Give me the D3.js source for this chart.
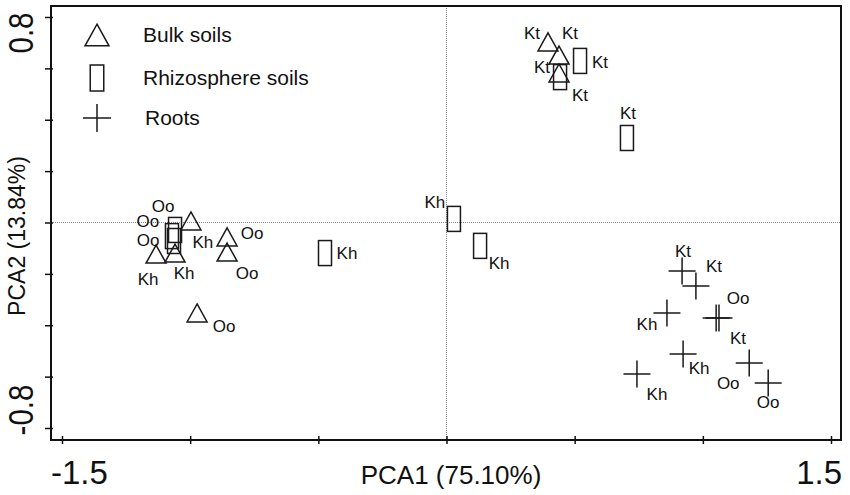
<!DOCTYPE html>
<html>
<head>
<meta charset="utf-8">
<script src="https://cdnjs.cloudflare.com/ajax/libs/d3/7.8.5/d3.min.js"></script>
<style>
  body { margin: 0; background: #fff; }
  text { font-family: Arial, "Liberation Sans", sans-serif; fill: #111; }
</style>
</head>
<body>
<div id="chart"></div>
<script>
// PCA scores
var bulkX = [0.396, 0.439, 0.439, -0.997, -1.133, -1.059, -0.856, -0.856, -0.973];
var bulkY = [0.703, 0.652, 0.582, 0.006, -0.123, -0.119, -0.056, -0.115, -0.352];
var bulkLabels = ["Kt", "Kt", "Kt", "Kh", "Kh", "Kh", "Oo", "Oo", "Oo"];

var rhizoX = [0.443, 0.521, 0.704, -0.474, 0.029, 0.131, -1.059, -1.071, -1.063];
var rhizoY = [0.566, 0.629, 0.329, -0.119, 0.014, -0.091, -0.029, -0.053, -0.072];
var rhizoLabels = ["Kt", "Kt", "Kt", "Kh", "Kh", "Kh", "Oo", "Oo", "Oo"];

var rootX = [0.919, 0.973, 1.063, 0.860, 0.923, 0.743, 1.052, 1.181, 1.255];
var rootY = [-0.189, -0.247, -0.372, -0.352, -0.512, -0.590, -0.372, -0.547, -0.625];
var rootLabels = ["Kt", "Kt", "Kt", "Kh", "Kh", "Kh", "Oo", "Oo", "Oo"];

var legendNames = ["Bulk soils", "Rhizosphere soils", "Roots"];
var xTicks = [-1.5, -1, -0.5, 0, 0.5, 1, 1.5];
var yTicks = [-0.8, -0.6, -0.4, -0.2, 0, 0.2, 0.4, 0.6, 0.8];
var xTickLabels = ["-1.5", "", "", "", "", "", "1.5"];
var yTickLabels = ["-0.8", "", "", "", "", "", "", "", "0.8"];
var xTitle = "PCA1 (75.10%)";
var yTitle = "PCA2 (13.84%)";

// where each point's name sits relative to its marker (px)
var bulkNudge = [[-16,-9],[11,-22],[-17,-6],[12,21],[-8,25],[9,20],[25,-4],[20,21],[27,13]];
var rhizoNudge = [[20,18],[20,1],[1,-25],[22,0],[-19,-17],[19,17],[-12,-24],[-24,-15],[-26,-1]];
var rootNudge = [[1,-20],[18,-20],[19,20],[-20,11],[16,14],[20,20],[22,-20],[-21,20],[0,19]];

var width = 850, height = 495;
var plotL = 51, plotR = 841, plotT = 6, plotB = 440;

var svg = d3.select("#chart").append("svg")
  .attr("width", width)
  .attr("height", height);

var x = d3.scaleLinear().domain([-1.5, 1.5]).range([62, 831]);
var y = d3.scaleLinear().domain([-0.8, 0.8]).range([428, 17]);

// zero reference lines
svg.append("line")
  .attr("x1", plotL).attr("x2", plotR)
  .attr("y1", y(0)).attr("y2", y(0))
  .attr("stroke", "#888").attr("stroke-dasharray", "1,1");
svg.append("line")
  .attr("x1", x(0)).attr("x2", x(0))
  .attr("y1", plotT).attr("y2", plotB)
  .attr("stroke", "#888").attr("stroke-dasharray", "1,1");

// frame
svg.append("rect")
  .attr("x", plotL).attr("y", plotT)
  .attr("width", plotR - plotL).attr("height", plotB - plotT)
  .attr("fill", "none").attr("stroke", "#111").attr("stroke-width", 2);

var xAxis = svg.append("g")
  .attr("transform", "translate(0," + plotB + ")")
  .call(d3.axisBottom(x).tickValues(xTicks).tickSize(4).tickFormat(""));
xAxis.select(".domain").remove();
xAxis.selectAll(".tick line").attr("y1", -4).attr("stroke", "#111").attr("stroke-width", 1.5);

var yAxis = svg.append("g")
  .attr("transform", "translate(" + plotL + ",0)")
  .call(d3.axisLeft(y).tickValues(yTicks).tickSize(6).tickFormat(""));
yAxis.select(".domain").remove();
yAxis.selectAll(".tick line").attr("x1", 2).attr("x2", -6).attr("stroke", "#111").attr("stroke-width", 1.5);

// tick labels, nudged inward like the original
xTicks.forEach(function(v, i){
  if (!xTickLabels[i]) return;
  svg.append("text")
    .attr("x", i == 0 ? x(v) - 11 : x(v) + 11)
    .attr("y", 484)
    .attr("text-anchor", i == 0 ? "start" : "end")
    .attr("font-size", 33)
    .text(xTickLabels[i]);
});
yTicks.forEach(function(v, i){
  if (!yTickLabels[i]) return;
  var cy = i == 0 ? y(v) - 18 : y(v) + 16;
  svg.append("text")
    .attr("transform", "translate(33," + cy + ") rotate(-90) scale(0.82,1)")
    .attr("text-anchor", "middle")
    .attr("font-size", 36)
    .text(yTickLabels[i]);
});

svg.append("text")
  .attr("x", 451).attr("y", 484)
  .attr("text-anchor", "middle")
  .attr("font-size", 26)
  .text(xTitle);
svg.append("text")
  .attr("transform", "translate(25,236) rotate(-90)")
  .attr("text-anchor", "middle")
  .attr("font-size", 23)
  .text(yTitle);

// marker shapes
var triangle = function(g, s){
  g.append("path")
    .attr("d", "M0," + (-0.45 * s) + "L" + (0.5 * s) + "," + (0.45 * s) + "L" + (-0.5 * s) + "," + (0.45 * s) + "Z");
};
var box = function(g, s){
  g.append("rect").attr("x", -0.26 * s).attr("y", -0.5 * s).attr("width", 0.52 * s).attr("height", s);
};
var cross = function(g, s){
  g.append("path").attr("d", "M" + (-s / 2) + ",0H" + (s / 2) + "M0," + (-s / 2) + "V" + (s / 2));
};

var drawSeries = function(xs, ys, names, nudge, shape, size){
  var pts = xs.map(function(v, i){ return {x: v, y: ys[i], name: names[i], n: nudge[i]}; });
  var g = svg.append("g");
  g.selectAll("g.pt")
    .data(pts)
    .enter()
    .append("g")
    .attr("class", "pt")
    .attr("transform", function(d){ return "translate(" + x(d.x) + "," + y(d.y) + ")"; })
    .attr("fill", "none").attr("stroke", "#1a1a1a").attr("stroke-width", 1.5)
    .each(function(){ shape(d3.select(this), size); });
  g.selectAll("text")
    .data(pts)
    .enter()
    .append("text")
    .attr("x", function(d){ return x(d.x) + d.n[0]; })
    .attr("y", function(d){ return y(d.y) + d.n[1]; })
    .attr("text-anchor", "middle")
    .attr("dy", "0.35em")
    .attr("font-size", 17)
    .text(function(d){ return d.name; });
};

drawSeries(bulkX, bulkY, bulkLabels, bulkNudge, triangle, 20);
drawSeries(rhizoX, rhizoY, rhizoLabels, rhizoNudge, box, 25);
drawSeries(rootX, rootY, rootLabels, rootNudge, cross, 27);

// legend
var legendShapes = [triangle, box, cross];
var legendSizes = [24, 26, 28];
var legend = svg.append("g");
legendNames.forEach(function(name, i){
  var ly = [35, 78, 118][i];
  var mk = legend.append("g")
    .attr("transform", "translate(97," + ly + ")")
    .attr("fill", "none").attr("stroke", "#1a1a1a").attr("stroke-width", 1.5);
  legendShapes[i](mk, legendSizes[i]);
  legend.append("text")
    .attr("x", i == 2 ? 145 : 143)
    .attr("y", ly + 7)
    .attr("font-size", 21)
    .text(name);
});
</script>
</body>
</html>
